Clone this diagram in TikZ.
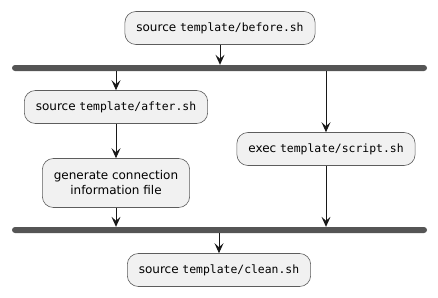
\documentclass[tikz,border=0pt]{standalone}
\usepackage{fontspec}
\setmainfont{DejaVu Sans}
\setmonofont[Scale=0.95]{DejaVu Sans Mono}
\usetikzlibrary{arrows.meta}
\definecolor{boxfill}{HTML}{F1F1F1}
\definecolor{boxline}{HTML}{181818}
\definecolor{barfill}{HTML}{555555}
\tikzset{
  action/.style={draw=boxline!70,fill=boxfill,rounded corners=11pt,line width=0.6pt,
    inner xsep=11.5pt,minimum height=33pt,align=center,font=\fontsize{12}{15}\selectfont},
  forkbar/.style={fill=barfill,rounded corners=3pt,minimum width=415pt,minimum height=6pt,inner sep=0pt},
  flow/.style={draw=boxline,line width=0.9pt,-{Stealth[length=10pt,width=9pt,inset=4pt]}}
}
\begin{document}
\begin{tikzpicture}[x=1pt,y=-1pt]
				\useasboundingbox (0,0) rectangle (438,297);
				% Khối đầu
				\node[action] (before) at (220,28) {source \texttt{template/before.sh}};
				% Thanh tách nhánh
				\node[forkbar] (fork) at (219.5,68) {};
				
				% Nhánh trái
				\node[action] (after) at (116,107) {source \texttt{template/after.sh}};
				\node[action,minimum height=49pt] (gen) at (116,183) {generate connection\\information file};
				
				% Nhánh phải
				\node[action] (script) at (326,149) {exec \texttt{template/script.sh}};
				
				% Thanh gộp nhánh
				\node[forkbar] (join) at (219.5,230) {};
				\node[action] (clean) at (219,270) {source \texttt{template/clean.sh}};
				
				% Các mũi tên
				\draw[flow] (before) -- (before |- fork.north);
				\draw[flow] (after |- fork.south) -- (after);
				\draw[flow] (after) -- (gen);
				\draw[flow] (gen) -- (gen |- join.north);
				\draw[flow] (script |- fork.south) -- (script);
				\draw[flow] (script) -- (script |- join.north);
				\draw[flow] (clean |- join.south) -- (clean);
			\end{tikzpicture}
\end{document}
